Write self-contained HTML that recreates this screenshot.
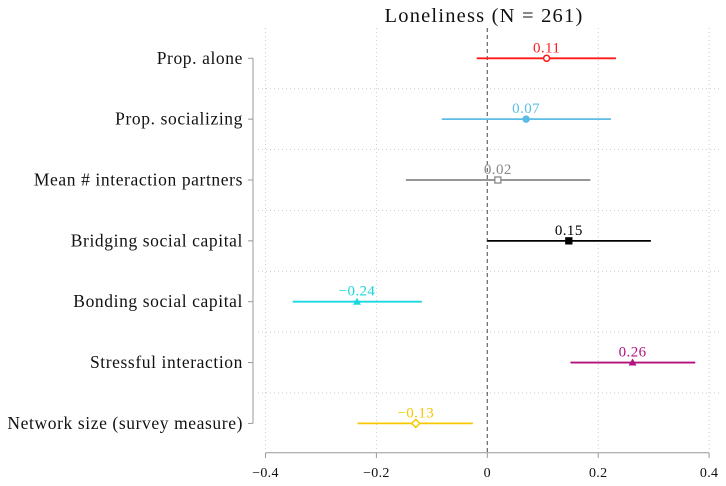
<!DOCTYPE html>
<html><head><meta charset="utf-8"><style>
body{margin:0;background:#fff;}
svg{display:block;font-family:"Liberation Serif",serif;}
</style></head><body>
<svg id="chart" width="726" height="486">
<text x="484" y="22" text-anchor="middle" font-size="20.5" letter-spacing="1.2" fill="#111">Loneliness (N = 261)</text>
<g id="grid"></g><g id="axes"></g><g id="marks"></g>
</svg>
<script>
const labels=["Prop. alone","Prop. socializing","Mean # interaction partners","Bridging social capital","Bonding social capital","Stressful interaction","Network size (survey measure)"];
const estimates=[0.107,0.070,0.019,0.147,-0.235,0.262,-0.129];
const lower=[-0.019,-0.082,-0.147,0.0,-0.351,0.150,-0.234];
const upper=[0.232,0.223,0.186,0.295,-0.118,0.375,-0.026];
const printed=["0.11","0.07","0.02","0.15","\u22120.24","0.26","\u22120.13"];
const xTicks=[-0.4,-0.2,0,0.2,0.4];
const xTickLabels=["\u22120.4","\u22120.2","0","0.2","0.4"];
const colors=["#ff1a1a","#5bbde6","#888888","#000000","#19d8e0","#b0127e","#f5c800"];
const shapes=["circle-o","circle","square-o","square","triangle","triangle","diamond-o"];
const NS="http://www.w3.org/2000/svg";
const X=v=>487.3+v*554.5;
const Y=i=>58.3+i*60.85;
function mk(t,a,p){const e=document.createElementNS(NS,t);for(const k in a)e.setAttribute(k,a[k]);p.appendChild(e);return e;}
const grid=document.getElementById('grid'),axes=document.getElementById('axes'),marks=document.getElementById('marks');
xTicks.forEach((t,i)=>{
 if(t!==0){const g=mk('line',{x1:X(t),x2:X(t),y1:28,y2:452,stroke:'#ccc','stroke-dasharray':'1 3'},grid);
 }
 const tk=mk('line',{x1:X(t),x2:X(t),y1:452.7,y2:458,stroke:'#999'},axes);
 
 const tl=mk('text',{x:X(t),y:477,'text-anchor':'middle','font-size':'14','letter-spacing':'0.3',fill:'#111'},axes);tl.textContent=xTickLabels[i];
 
});
for(let i=0;i<labels.length-1;i++){const y=(Y(i)+Y(i+1))/2;
 const g=mk('line',{x1:258,x2:722,y1:y,y2:y,stroke:'#ccc','stroke-dasharray':'1 3'},grid);
 }
const xa=mk('line',{x1:X(-0.4),x2:X(0.4),y1:452.7,y2:452.7,stroke:'#999'},axes);

const ya=mk('line',{x1:253,x2:253,y1:Y(0),y2:Y(6),stroke:'#999'},axes);

const zl=mk('line',{x1:X(0),x2:X(0),y1:28,y2:452,stroke:'#666','stroke-dasharray':'4 3','stroke-width':1.2},axes);

labels.forEach((l,i)=>{const y=Y(i);
 const tk=mk('line',{x1:248,x2:253,y1:y,y2:y,stroke:'#999'},axes);
 
 const t=mk('text',{x:243,y:y+5.5,'text-anchor':'end','font-size':'17.5','letter-spacing':'0.6',fill:'#111'},axes);t.textContent=l;
 
 const c=colors[i];
 const ci=mk('line',{x1:X(lower[i]),x2:X(upper[i]),y1:y,y2:y,stroke:c,'stroke-width':1.8},marks);
 
 const px=X(estimates[i]);let m;const s=shapes[i];
 if(s.startsWith('circle'))m=mk('circle',{cx:px,cy:y,r:3,fill:s.endsWith('-o')?'#fff':c,stroke:c,'stroke-width':1.5},marks);
 else if(s.startsWith('square'))m=mk('rect',{x:px-3,y:y-3,width:6,height:6,fill:s.endsWith('-o')?'#fff':c,stroke:c,'stroke-width':1.3},marks);
 else if(s==='triangle')m=mk('polygon',{points:`${px-4},${y+3} ${px+4},${y+3} ${px},${y-4}`,fill:c},marks);
 else m=mk('polygon',{points:`${px},${y-4} ${px+4},${y} ${px},${y+4} ${px-4},${y}`,fill:'#fff',stroke:c,'stroke-width':1.5},marks);
 
 const vl=mk('text',{x:px,y:y-6,'text-anchor':'middle','font-size':'15','letter-spacing':'0.4',fill:c},marks);vl.textContent=printed[i];
 
});
</script>
</body></html>
